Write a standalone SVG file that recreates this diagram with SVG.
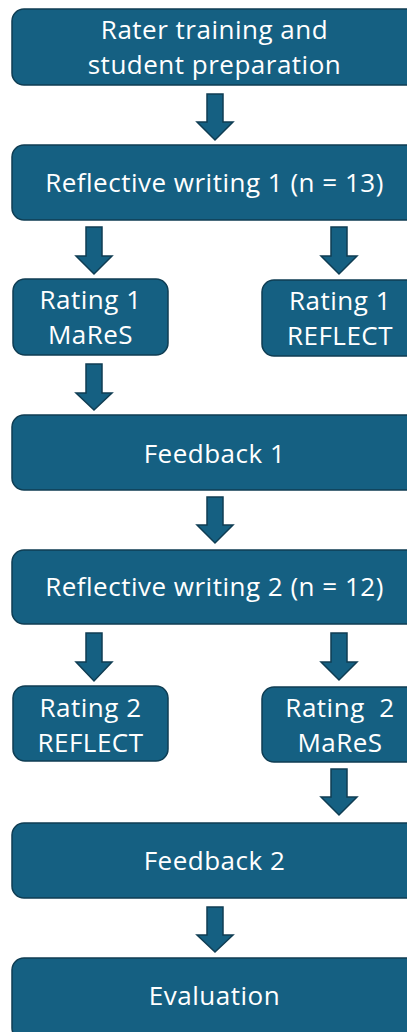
<svg xmlns="http://www.w3.org/2000/svg" width="407" height="1032" viewBox="0 0 407 1032">
<style>
.box{fill:#156082;stroke:#0f3d53;stroke-width:1.5}
.arr{fill:#156082;stroke:#0f3d53;stroke-width:1.5;stroke-linejoin:miter}
.t{font-family:"Open Sans","Noto Sans","Liberation Sans",sans-serif;font-size:26px;letter-spacing:0.5px;fill:#ffffff;text-anchor:middle}
</style>
<rect width="407" height="1032" fill="#ffffff"/>
<g id="connectors">
<path class="arr" d="M207,94 H223 V122 H233 L215,140 L197,122 H207 Z"/>
<path class="arr" d="M86,227 H102 V256 H112 L94,274 L76,256 H86 Z"/>
<path class="arr" d="M331,227 H347 V256 H357 L339,274 L321,256 H331 Z"/>
<path class="arr" d="M86,364 H102 V393 H112 L94,410 L76,393 H86 Z"/>
<path class="arr" d="M207,497 H223 V525 H233 L215,543 L197,525 H207 Z"/>
<path class="arr" d="M86,633 H102 V662 H112 L94,681 L76,662 H86 Z"/>
<path class="arr" d="M331,633 H347 V662 H357 L339,680 L321,662 H331 Z"/>
<path class="arr" d="M331,769 H347 V797 H357 L339,815 L321,797 H331 Z"/>
<path class="arr" d="M207,907 H223 V935 H233 L215,952 L197,935 H207 Z"/>
</g>
<g id="n-rater">
<rect class="box" x="12" y="9" width="406" height="76" rx="12"/>
<text class="t" x="214.5" y="39">Rater training and</text>
<text class="t" x="214.5" y="74">student preparation</text>
</g>
<g id="n-rw1">
<rect class="box" x="12" y="145" width="406" height="75" rx="12"/>
<text class="t" x="214.5" y="192">Reflective writing 1 (n = 13)</text>
</g>
<g id="n-r1-mares">
<rect class="box" x="13" y="279" width="155" height="76" rx="12"/>
<text class="t" x="90.5" y="309">Rating 1</text>
<text class="t" x="90.5" y="344">MaReS</text>
</g>
<g id="n-r1-reflect">
<rect class="box" x="262" y="280" width="156" height="76" rx="12"/>
<text class="t" x="340" y="310">Rating 1</text>
<text class="t" x="340" y="345">REFLECT</text>
</g>
<g id="n-fb1">
<rect class="box" x="12" y="415" width="406" height="75" rx="12"/>
<text class="t" x="214.5" y="463">Feedback 1</text>
</g>
<g id="n-rw2">
<rect class="box" x="12" y="550" width="406" height="74" rx="12"/>
<text class="t" x="214.5" y="596">Reflective writing 2 (n = 12)</text>
</g>
<g id="n-r2-reflect">
<rect class="box" x="13" y="686" width="155" height="75" rx="12"/>
<text class="t" x="90.5" y="717">Rating 2</text>
<text class="t" x="90.5" y="752">REFLECT</text>
</g>
<g id="n-r2-mares">
<rect class="box" x="262" y="687" width="156" height="75" rx="12"/>
<text class="t" x="340" y="717" xml:space="preserve">Rating  2</text>
<text class="t" x="340" y="752">MaReS</text>
</g>
<g id="n-fb2">
<rect class="box" x="12" y="823" width="406" height="75" rx="12"/>
<text class="t" x="214.5" y="870">Feedback 2</text>
</g>
<g id="n-eval">
<rect class="box" x="12" y="958" width="406" height="82" rx="12"/>
<text class="t" x="214.5" y="1005">Evaluation</text>
</g>
</svg>
